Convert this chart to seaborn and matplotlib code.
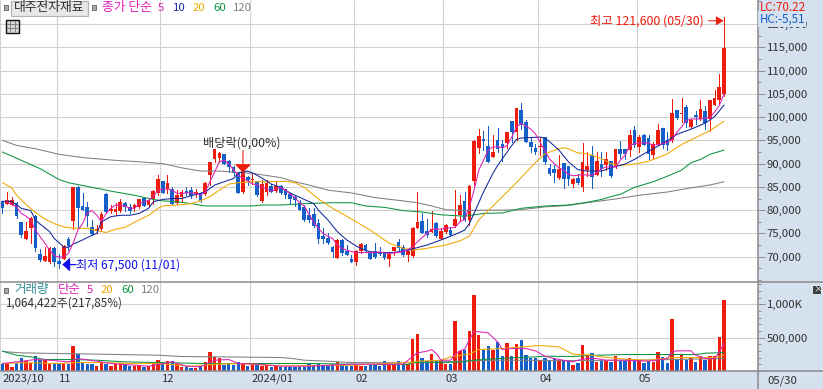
import matplotlib
matplotlib.use('Agg')
import matplotlib.pyplot as plt
import matplotlib.transforms as mtrans
from matplotlib.patches import Rectangle
import numpy as np
import pandas as pd
import seaborn as sns

W, H = 823, 389

# Daily candles (won)
opens = [81900,81300,81200,81400,77300,73800,76100,78700,70600,69100,
         68800,71700,69100,69600,73700,77700,85000,80900,80700,76300,
         75500,75900,83400,79900,79500,79900,81400,80700,80400,80700,
         82600,81100,82300,83700,86100,84600,84500,81600,82900,84100,
         84300,83400,83600,83400,87500,90900,91200,92000,90400,89300,
         87900,83900,87000,86400,86100,82000,83900,85100,84100,85100,
         84400,83400,82700,81400,80700,78900,79100,77100,74300,73900,
         72100,69700,73600,71100,69400,68900,71200,72400,70900,71100,
         70900,70900,69400,71300,73000,72000,70400,70100,76200,77500,
         75400,75400,77100,73800,75400,75600,76600,78900,81900,77900,
         86200,93400,95200,93600,91400,94900,94100,94500,99100,96800,
         101400,98800,94600,93200,93600,95700,88900,88800,86900,90000,
         89400,85600,86900,85000,88600,91800,87500,89900,89600,90400,
         89300,93100,93100,92900,97100,93600,96100,95400,91800,94100,
         97500,95100,95000,101400,100600,102100,97900,100300,99600,101300,
         99600,102700,103600,104900]
highs = [81900,83900,82900,81800,77500,77400,78600,78900,71600,72000,
         72100,72100,70600,72500,74300,85000,85100,83600,81800,77900,
         76800,79600,83600,81100,81600,82300,81800,81400,81400,82500,
         82900,82500,84400,87500,86300,87500,85000,84300,84400,85000,
         85000,84600,83900,86100,90300,93200,92500,92000,90700,89400,
         88200,88900,87300,87700,86300,86400,86400,85700,86200,85400,
         84600,83700,83200,82100,81100,80400,80400,78000,76100,75100,
         72300,73900,73900,72500,70400,71400,72900,72700,71100,72900,
         72100,71100,70900,72100,73900,72500,71400,76300,83900,79300,
         78100,79900,77500,76100,77000,76400,84400,83200,83900,85400,
         95000,97500,97000,98000,96100,97700,95000,96800,99100,101800,
         103100,99300,95500,94300,95400,95700,90000,89600,91800,90000,
         89400,87000,87700,94400,92600,93700,92500,92600,92600,90400,
         93200,94800,93100,97300,98000,96100,96400,96100,94600,98600,
         97500,96800,103900,101600,104000,102500,99600,101400,103700,102300,
         103600,105900,109300,121600]
lows = [79400,81300,81100,78400,74300,73800,72900,71300,69100,69100,
        68600,68000,67500,69400,71400,75900,76100,80000,76600,74600,
        75000,75600,79400,79400,79000,79600,79900,79400,79900,80400,
        80900,80700,81400,83200,83600,83600,81300,81300,81800,83200,
        82700,82900,81800,83200,85400,90400,90400,90000,88200,87500,
        83600,83700,85400,85700,83100,81800,83200,83900,83900,83400,
        82700,81300,80900,80000,77700,77500,76300,73000,72900,72700,
        69900,69700,70400,70400,68800,68200,70700,71300,69400,69800,
        70400,69600,67900,70400,71400,70100,69100,70000,76100,75000,
        74300,75400,74300,73700,75100,74500,76300,77900,77700,76800,
        85400,92300,92900,90400,91400,92600,90500,93400,94600,95000,
        97500,94600,92600,92100,91800,90000,87500,86100,86800,84800,
        85500,85000,85700,84100,87300,84800,87500,87300,88700,87100,
        89100,91100,90900,91600,93600,92500,94100,90900,90900,93900,
        93400,93000,94600,99600,98900,97900,97700,98600,99400,97500,
        97000,102500,102900,104600]
closes = [80400,82100,82100,78700,74600,75400,78200,71800,69300,70100,
          71700,68900,68400,72300,72300,84800,80400,80100,78700,74900,
          75900,79100,79600,80100,80200,81600,80700,79900,81100,82300,
          80900,82100,84100,86600,83700,85700,81400,83200,83900,83600,
          83000,83900,82000,85700,90300,93100,92100,90000,89300,87900,
          83700,88600,86400,86600,83200,85500,85700,83900,85100,83600,
          83200,82500,82100,80000,77900,77900,76600,73900,73800,72900,
          70900,73600,70700,70400,68900,71100,72700,71400,69600,69900,
          70600,69800,70600,71900,71800,70400,71100,76100,77400,75100,
          74600,75900,74400,75400,76800,74600,78100,81100,77900,85100,
          94800,95900,94800,90400,92400,93100,93400,96800,96800,101800,
          98200,94600,93600,92400,93800,90400,87700,88000,88800,86800,
          86800,86600,85900,90200,89400,87100,90500,88900,90900,87300,
          93100,92000,92000,96100,94100,95700,94100,92000,94100,97100,
          93900,93900,100900,99900,100700,98700,99400,100100,101600,98700,
          103600,104100,106300,114700]

# Daily volume (thousand shares)
volume = [100,100,60,125,195,145,120,220,170,160,
          110,125,110,125,110,370,250,135,100,100,
          70,120,110,70,100,125,95,70,75,75,
          60,70,100,160,100,145,145,110,60,60,
          50,50,70,135,280,210,190,85,110,85,
          130,100,70,85,95,75,85,60,70,60,
          60,60,60,60,55,100,85,110,70,70,
          110,135,110,70,70,85,70,70,110,110,
          80,145,85,110,145,85,110,475,550,190,
          145,250,170,160,110,110,745,295,310,595,
          1135,535,310,370,310,430,220,415,220,400,
          460,235,195,195,170,200,150,200,150,170,
          145,85,120,385,220,265,130,145,145,130,
          220,145,145,200,185,160,120,145,135,280,
          205,115,775,180,250,160,200,130,220,170,
          220,220,505,1064]

# Moving averages as (day index, value)
ma5 = [(1,81800),(3,80700),(4,79300),(5,78700),(6,77900),(7,75700),(8,74300),(9,72900),(10,71400),
       (11,70200),(12,69900),(13,70000),(14,70700),(15,72900),(16,75700),(17,77100),(18,79400),
       (19,79900),(20,78900),(21,77600),(22,79300),(23,80400),(24,81100),(26,80900),(27,80400),
       (28,80400),(29,81400),(31,82100),(32,82900),(33,84300),(35,84600),(36,84300),(37,83600),
       (39,83700),(41,83600),(42,83200),(43,83900),(44,86100),(45,88200),(46,90400),(47,90700),
       (48,90000),(49,88600),(50,87500),(51,86800),(53,85700),(55,85000),(57,84100),(59,84900),
       (60,84300),(62,82700),(63,81600),(64,80900),(65,79100),(66,77400),(67,76100),(68,75000),
       (69,74400),(70,73900),(71,72500),(72,71800),(73,71400),(74,71100),(75,70900),(78,70900),
       (80,71000),(82,70700),(84,70900),(85,71100),(86,71600),(87,72100),(88,73200),(90,75000),
       (91,75900),(93,75900),(94,76100),(96,76300),(97,77500),(98,78000),(99,80700),(100,84300),
       (101,88600),(102,90700),(103,92900),(104,93600),(105,93600),(106,93400),(107,93900),
       (108,95700),(109,97900),(110,98600),(111,98100),(112,97400),(113,96400),(114,94600),
       (115,92800),(116,91000),(117,90000),(118,89100),(119,88600),(120,87700),(121,87400),
       (123,87600),(125,87500),(126,88000),(127,88900),(128,89300),(130,89300),(131,90700),
       (132,91800),(133,93900),(134,94300),(136,94500),(137,94400),(138,93900),(139,94100),
       (140,94300),(141,94600),(142,95100),(143,96800),(144,97900),(145,99300),(146,99600),
       (148,99600),(150,99900),(151,101100),(152,102500),(153,104900)]
ma10 = [(0,81900),(2,81900),(4,80400),(6,79900),(7,77900),(8,77000),(10,75400),(11,73900),(13,72100),
        (14,72000),(15,72700),(17,73600),(19,74600),(20,75000),(21,77500),(23,78600),(25,78900),
        (27,78900),(29,79300),(31,80400),(32,81800),(34,82300),(36,82500),(38,82500),(40,83100),
        (42,83600),(43,83900),(45,85400),(47,86100),(49,86800),(50,88000),(52,88400),(53,88000),
        (54,87500),(56,86300),(57,85600),(59,84900),(61,83700),(64,82300),(66,81400),(67,80000),
        (69,77900),(71,75400),(73,73600),(75,72300),(77,71300),(79,70900),(83,70900),(86,71400),
        (90,72500),(93,73600),(96,74800),(98,75700),(99,77100),(100,79300),(102,83900),(104,87900),
        (105,89600),(107,92500),(108,93900),(109,95200),(110,95500),(112,95600),(114,95700),
        (115,95500),(116,94700),(118,92900),(120,90400),(122,88700),(124,88400),(127,88400),
        (129,89100),(132,89900),(134,90900),(136,92100),(138,93200),(141,94900),(143,96300),
        (146,97400),(149,98700),(151,100100),(153,102600)]
ma20 = [(0,85900),(2,84800),(3,83200),(5,81200),(7,79500),(9,78100),(11,77100),(13,76400),(15,76100),
        (18,76100),(20,75600),(22,75200),(24,75900),(26,76300),(28,77400),(31,78900),(33,80400),
        (34,80900),(37,81100),(40,81400),(42,82000),(44,82900),(46,84300),(48,85600),(50,85900),
        (53,86100),(56,86100),(60,86200),(62,85900),(64,84900),(67,82400),(70,80400),(74,78100),
        (78,75700),(82,72900),(85,71800),(87,71400),(90,71800),(94,72500),(97,73400),(99,74400),
        (101,77900),(104,80900),(107,83900),(110,87000),(113,90200),(115,92100),(118,93200),
        (119,93400),(120,93200),(122,92300),(124,92100),(127,91100),(129,90000),(131,89600),
        (134,89900),(137,90500),(141,92100),(144,94100),(148,96100),(150,97100),(153,99100)]
ma60 = [(0,92500),(4,90700),(8,88900),(12,86600),(14,85900),(15,85700),(19,84900),(24,83900),(28,83200),
        (32,82300),(34,82000),(37,81800),(40,81400),(43,80900),(53,80900),(55,81100),(59,81100),
        (64,81400),(70,81600),(74,81600),(77,80900),(81,80600),(85,79900),(89,79600),(93,79000),
        (98,78700),(102,79300),(106,79400),(110,80400),(115,80900),(120,81100),(124,81700),
        (127,82300),(129,82900),(131,83400),(134,84900),(138,86100),(141,87300),(144,88600),
        (146,90200),(148,90900),(150,92000),(153,92900)]
ma120 = [(0,95000),(3,93900),(7,93200),(12,92000),(17,91300),(24,90700),(29,90400),(34,90000),(38,89100),
         (42,88400),(46,88400),(49,88200),(53,87900),(59,87000),(62,86100),(65,85400),(69,84300),
         (74,83700),(79,82700),(84,82100),(88,81600),(91,80900),(94,80100),(98,79900),(102,80000),
         (106,80000),(110,80100),(115,80700),(120,81000),(124,81600),(130,82400),(135,83200),
         (141,83900),(146,84800),(150,85400),(153,86100)]

vma5 = [(0,110),(3,135),(7,170),(10,160),(14,135),(16,185),(20,145),(23,110),(28,85),(31,70),(34,110),
        (36,135),(39,70),(42,60),(45,160),(48,170),(50,110),(54,100),(59,70),(65,70),(74,100),(85,100),
        (86,160),(88,270),(90,295),(91,320),(92,260),(93,160),(95,160),(96,250),(97,300),(98,325),
        (99,460),(100,595),(103,570),(105,435),(106,320),(108,335),(111,335),(113,300),(115,220),
        (117,185),(120,145),(121,135),(122,160),(124,185),(126,185),(128,160),(132,160),(137,145),
        (141,185),(142,285),(143,300),(146,300),(147,235),(149,185),(151,185),(152,285),(153,410)]
vma20 = [(0,110),(4,120),(7,120),(12,110),(16,125),(21,125),(28,110),(33,110),(40,70),(45,100),(50,110),
         (59,75),(65,80),(74,85),(87,130),(88,145),(93,160),(95,210),(99,250),(101,320),(106,335),
         (112,370),(114,380),(118,360),(121,250),(125,235),(127,210),(132,175),(137,160),(142,200),
         (146,200),(151,200),(153,235)]
vma60 = [(0,295),(1,275),(3,235),(6,210),(9,170),(15,170),(20,160),(26,135),(33,125),(43,110),(59,110),
         (66,110),(74,100),(86,95),(87,125),(97,130),(100,160),(105,185),(113,210),(115,220),(121,215),
         (124,230),(132,245),(147,245),(149,265),(153,275)]
vma120 = [(0,295),(1,285),(4,270),(12,260),(21,250),(33,235),(38,215),(46,210),(59,200),(61,190),
          (64,160),(69,145),(74,125),(87,120),(93,135),(99,150),(106,160),(121,155),(135,160),(153,185)]

# first trading day of each month and its axis label
month_days = [-0.5, 11.5, 33.5, 52.5, 74.5, 93.5, 113.5, 134.5]
month_labels = ['2023/10', '11', '12', '2024/01', '02', '03', '04', '05']

price_ticks = list(range(70000, 120001, 5000))
vol_ticks = [500, 1000]
vol_tick_labels = ['500,000', '1,000K']

RED = '#ee1c0c'
BLUE = '#1460c8'
MAGENTA = '#e020b4'
NAVY = '#14289c'
ORANGE = '#f0a800'
GREEN = '#0c9440'
GRAY = '#808080'
GRID = '#d2d2d2'
STRIP = '#d6e1ef'
EDGE = '#8e8e8e'
INK = '#303030'

sns.set_theme(style='white')
plt.rcParams['font.family'] = ['Noto Sans CJK KR', 'DejaVu Sans']
plt.rcParams['font.size'] = 8.2
PX = 72 / 100

days = np.arange(len(closes))
up = np.array(closes) >= np.array(opens)
df = pd.DataFrame({'day': days, 'volume': volume, 'up': up})

fig = plt.figure(figsize=(W / 100, H / 100), dpi=100, facecolor=STRIP)
ax_p = fig.add_axes([0, (H - 282) / H, 758 / W, 282 / H])
ax_v = fig.add_axes([0, (H - 371) / H, 758 / W, 89 / H])

# candles
ax_p.vlines(days, lows, highs, colors=[RED if u else BLUE for u in up], lw=PX, antialiased=False, zorder=3)
ax_p.bar(days, np.abs(np.array(closes) - np.array(opens)) + 80, bottom=np.minimum(opens, closes), width=0.78,
         color=[RED if u else BLUE for u in up], linewidth=0, zorder=3)


def draw_ma(ax, pairs, color, order):
    d = pd.DataFrame(pairs, columns=['day', 'value'])
    sns.lineplot(data=d, x='day', y='value', color=color, lw=PX * 1.05, ax=ax, estimator=None,
                 errorbar=None, sort=False, zorder=order)


for pairs, color, order in [(ma120, GRAY, 4), (ma60, GREEN, 4.1), (ma20, ORANGE, 4.2), (ma10, NAVY, 4.3), (ma5, MAGENTA, 4.4)]:
    draw_ma(ax_p, pairs, color, order)

# volume bars
sns.barplot(data=df, x='day', y='volume', hue='up', palette={True: RED, False: BLUE}, native_scale=True,
            dodge=False, width=0.72, saturation=1, legend=False, linewidth=0, ax=ax_v, zorder=3)
for pairs, color, order in [(vma120, GRAY, 4), (vma60, GREEN, 4.1), (vma20, ORANGE, 4.2), (vma5, MAGENTA, 4.4)]:
    draw_ma(ax_v, pairs, color, order)

xlim = (-0.51, 160.2)
ax_p.set_xlim(xlim)
ax_v.set_xlim(xlim)
ax_p.set_ylim(64560, 125160)
ax_v.set_ylim(-2, 1333)

for ax in (ax_p, ax_v):
    ax.set_facecolor('white')
    ax.set_axisbelow(True)
    ax.set_xlabel('')
    ax.set_ylabel('')
    ax.set_xticks(month_days)
    ax.yaxis.tick_right()
    ax.grid(True, color=GRID, lw=PX * 1.1)
    for side in ('left', 'top', 'bottom'):
        ax.spines[side].set_visible(False)
    ax.spines['right'].set_color(EDGE)
    ax.spines['right'].set_linewidth(PX * 1.6)
ax_p.tick_params(axis='x', length=0, labelbottom=False)
ax_p.set_yticks(price_ticks)
ax_p.set_yticklabels([f'{v:,}' for v in price_ticks])
ax_p.set_yticks(np.arange(65000, 125001, 2500), minor=True)
ax_v.set_yticks(vol_ticks + [0])
ax_v.set_yticklabels(vol_tick_labels + [''])
ax_v.set_yticks(np.arange(100, 1301, 100), minor=True)
for ax in (ax_p, ax_v):
    ax.tick_params(axis='y', which='major', length=7 * PX, width=PX, color=EDGE, pad=1.5 * PX, labelsize=8.2, labelcolor=INK)
    ax.tick_params(axis='y', which='minor', length=3 * PX, width=PX, color=EDGE)

# month labels inside the bottom strip
ax_v.set_xticklabels(month_labels, ha='left', fontsize=8.1, color=INK)
ax_v.tick_params(axis='x', length=18 * PX, width=PX * 1.4, color=EDGE, pad=-15 * PX, direction='out')
shift = mtrans.ScaledTranslation(2 / 100, 0, fig.dpi_scale_trans)
for lab in ax_v.get_xticklabels():
    lab.set_transform(lab.get_transform() + shift)

# panel separators
for y in (281.5, 371):
    fig.add_artist(plt.Line2D([0, 1], [1 - y / H, 1 - y / H], color=EDGE, lw=PX * 1.6))
fig.add_artist(plt.Line2D([758 / W, 758 / W], [0, (H - 371) / H], color=EDGE, lw=PX * 1.6))


def put(x, y, s, color=INK, size=8.2, **kw):
    return fig.text(x / W, 1 - y / H, s, color=color, fontsize=size, va='center', ha='left', **kw)


def box(x, y, w, h, face, edge, lw=1):
    fig.add_artist(Rectangle((x / W, 1 - (y + h) / H), w / W, h / H, facecolor=face, edgecolor=edge,
                             lw=lw * PX, transform=fig.transFigure, zorder=6))


# top legend
box(3.5, 5, 4, 5, '#a8a8a8', '#707070')
box(10.5, 1.5, 77, 14, '#e8e8e8', '#b4b4b4', 1.2)
put(14, 8, '대주전자재료', INK, 9.2, zorder=7)
box(91.5, 5, 4, 5, '#a8a8a8', '#707070')
put(102.5, 8, '종가 단순', MAGENTA, 9.2)
put(158, 8, '5', MAGENTA)
put(173, 8, '10', NAVY)
put(193, 8, '20', ORANGE)
put(213, 8, '60', GREEN)
put(233, 8, '120', GRAY)

# table icon
box(5.5, 19.5, 13, 13, '#d8d8d8', '#101010', 1.4)
for gx in (9.5, 14.5):
    fig.add_artist(plt.Line2D([gx / W, gx / W], [1 - 21 / H, 1 - 31 / H], color='#808080', lw=PX, zorder=7))
for gy in (23.5, 27.5):
    fig.add_artist(plt.Line2D([7 / W, 17 / W], [1 - gy / H, 1 - gy / H], color='#808080', lw=PX, zorder=7))

# volume legend
box(3.5, 288, 4, 5, '#a8a8a8', '#707070')
put(14, 290, '거래량', '#2c8c90', 9)
put(58, 290, '단순', MAGENTA, 9)
put(87, 290, '5', MAGENTA)
put(101, 290, '20', ORANGE)
put(121, 290, '60', GREEN)
put(141, 290, '120', GRAY)
put(5, 303, '1,064,422주(217,85%)', INK, 8.4)

# LC / HC readout
put(759.5, 7, 'LC:70,22', RED, 8.4, zorder=8)
put(759.5, 19, 'HC:-5,51', BLUE, 8.4, zorder=8, bbox=dict(facecolor=STRIP, edgecolor='none', pad=0.8))

# annotations
put(590.5, 21, '최고 121,600 (05/30)', RED, 8.9)
put(76, 265.5, '최저 67,500 (11/01)', '#1010e8', 8.7)
put(203, 143, '배당락(0,00%)', INK, 8.8)
ax_p.annotate('', xy=(152.9, 120700), xytext=(149.7, 120700),
              arrowprops=dict(arrowstyle='-|>,head_length=0.5,head_width=0.3', color=RED, lw=PX, shrinkA=0, shrinkB=0, mutation_scale=9), zorder=6)
ax_p.annotate('', xy=(12.7, 68300), xytext=(15.6, 68300),
              arrowprops=dict(arrowstyle='-|>,head_length=0.5,head_width=0.45', color='#1010e8', lw=PX * 1.3, shrinkA=0, shrinkB=0, mutation_scale=9), zorder=6)
ax_p.annotate('', xy=(51, 88100), xytext=(51, 92800),
              arrowprops=dict(arrowstyle='-|>,head_length=0.5,head_width=0.5', color=RED, lw=PX * 1.1, shrinkA=0, shrinkB=0, mutation_scale=10), zorder=6)

# bottom right date and panel close button
put(767, 380.5, '05/30', INK, 8.2)
box(813, 286, 7, 6.5, '#404040', '#404040')
put(813.5, 289, '×', 'white', 6.5, zorder=8)

fig.savefig('out.png', dpi=100, facecolor=fig.get_facecolor())
